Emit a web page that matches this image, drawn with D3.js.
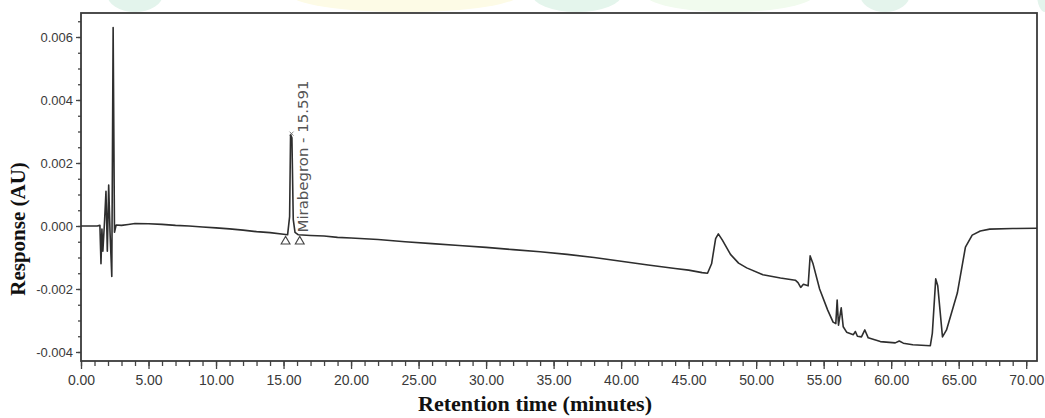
<!DOCTYPE html>
<html>
<head>
<meta charset="utf-8">
<script src="https://cdn.jsdelivr.net/npm/d3@7"></script>
<style>
body { margin:0; background:#fff; }
.tick text { font-family:"Liberation Sans", Arial, sans-serif; fill:#3a3a3a; }
.tick line { stroke:#444; }
</style>
</head>
<body>
<script>
// chromatogram (minutes, AU)
var times = [0,1.2,1.4,1.48,1.55,1.62,1.75,1.85,1.95,2.05,2.15,2.28,2.38,2.48,2.6,3,3.5,4,5,6,7,8,9,10,11,12,13,14,15,
  15.3,15.45,15.52,15.62,15.72,15.85,16.1,17,18,19,20,22,24,26,28,30,32,34,36,38,40,42,44,45,46,46.4,46.7,47.0,47.2,47.5,
  48.1,48.7,49.3,50.5,51.8,52.9,53.1,53.3,53.5,53.85,54.0,54.2,54.7,55.3,55.7,55.9,56.0,56.1,56.3,56.45,56.7,57.2,57.35,
  57.5,57.8,58.05,58.3,59.2,60.3,60.6,60.9,61.6,62.9,63.05,63.3,63.45,63.8,64.1,64.9,65.5,66.0,66.6,67.3,69,70.8];
var responses = [0,0,0.00002,-0.0012,-0.0001,-0.0008,0.0002,0.0011,-0.0008,0.0013,-0.0002,-0.0016,0.0063,-0.0002,0.00003,
  0.00002,0.00005,0.00008,0.00007,0.00005,0.00002,0,-0.00003,-0.00006,-0.00009,-0.00013,-0.00018,-0.00021,-0.00026,
  -0.00028,0.0003,0.0029,0.0028,0.0002,-0.0002,-0.00028,-0.0003,-0.00032,-0.00036,-0.00038,-0.00043,-0.0005,-0.00056,
  -0.00062,-0.00068,-0.00075,-0.00082,-0.0009,-0.001,-0.00112,-0.00124,-0.00135,-0.0014,-0.00148,-0.0015,-0.0012,-0.0004,
  -0.00025,-0.00045,-0.0009,-0.00118,-0.00133,-0.00155,-0.00165,-0.00172,-0.0018,-0.00195,-0.00185,-0.0019,-0.00095,
  -0.00118,-0.002,-0.00267,-0.00305,-0.0031,-0.00235,-0.00315,-0.0026,-0.0032,-0.00337,-0.00345,-0.00335,-0.0035,-0.00352,
  -0.0033,-0.00355,-0.00367,-0.00371,-0.00365,-0.00372,-0.00377,-0.0038,-0.0034,-0.00168,-0.0019,-0.00352,-0.0033,
  -0.00213,-0.00067,-0.00029,-0.00016,-0.0001,-0.00008,-0.00007];

var xTicks = [0,5,10,15,20,25,30,35,40,45,50,55,60,65,70];
var yTicks = [-0.004,-0.002,0,0.002,0.004,0.006];

var peakName = "Mirabegron", peakTime = 15.591, peakTop = 0.0029;
var peakMarks = [15.15, 16.2];   // start / end triangles
var peakBase = -0.00027;

var width = 1045, height = 418;
var plotL = 81, plotR = 1037, plotT = 13, plotB = 361;

var svg = d3.select('body').append('svg').attr('width', width).attr('height', height);

// faint watermark blobs along the top edge
var blobs = [[135,28,'#e3f4ec'],[405,115,'#fdfbe6'],[577,45,'#e4f5ec'],[730,85,'#f1fbee'],[885,25,'#e4f4ec'],[1045,8,'#e4f4ec']];
svg.append('g').selectAll('ellipse').data(blobs).enter().append('ellipse')
  .attr('cx', function(d){ return d[0]; }).attr('cy', -6)
  .attr('rx', function(d){ return d[1]; }).attr('ry', 18)
  .style('fill', function(d){ return d[2]; });
svg.append('rect').attr('x',0).attr('y',12).attr('width',width).attr('height',height).style('fill','#fff');

var x = d3.scaleLinear().domain([0, 70.8]).range([plotL, plotR]);
var y = d3.scaleLinear().domain([-0.004286, 0.006762]).range([plotB, plotT]);

// minor ticks
svg.append('g').attr('transform','translate(0,'+plotB+')')
  .call(d3.axisBottom(x).tickValues(d3.range(0,71,1)).tickSize(5).tickFormat(''))
  .call(function(g){ g.select('.domain').remove(); });
svg.append('g').attr('transform','translate('+plotL+',0)')
  .call(d3.axisLeft(y).tickValues(d3.range(-0.004,0.0066,0.0005)).tickSize(3).tickFormat(''))
  .call(function(g){ g.select('.domain').remove(); });

// major ticks
var yFmt = d3.format('.3f');
svg.append('g').attr('transform','translate(0,'+plotB+')')
  .call(d3.axisBottom(x).tickValues(xTicks).tickSize(8).tickPadding(6).tickFormat(d3.format('.2f')))
  .call(function(g){ g.select('.domain').remove(); g.selectAll('text').style('font-size','14px'); });
svg.append('g').attr('transform','translate('+plotL+',0)')
  .call(d3.axisLeft(y).tickValues(yTicks).tickSize(5).tickPadding(3)
    .tickFormat(function(d){ return yFmt(d).replace('\u2212','-'); }))
  .call(function(g){ g.select('.domain').remove(); g.selectAll('text').style('font-size','13px'); });

svg.selectAll('.tick line').style('stroke-width', 1.3);

// frame
svg.append('rect').attr('x', plotL).attr('y', plotT).attr('width', plotR-plotL).attr('height', plotB-plotT)
  .style('fill','none').style('stroke','#3a3a3a').style('stroke-width', 1.8);

// trace
var line = d3.line().x(function(d){ return x(d[0]); }).y(function(d){ return y(d[1]); });
svg.append('path').datum(d3.zip(times, responses)).attr('d', line)
  .style('fill','none').style('stroke','#2e2e2e').style('stroke-width', 1.6).style('stroke-linejoin','round');

// peak annotation
svg.selectAll('.pk').data(peakMarks).enter().append('path').attr('class','pk')
  .attr('d', d3.symbol().type(d3.symbolTriangle).size(34))
  .attr('transform', function(d){ return 'translate('+x(d)+','+(y(peakBase)+7)+')'; })
  .style('fill','#fff').style('stroke','#444').style('stroke-width',1.1);

svg.append('path')
  .attr('d','M'+(x(peakTime)-2)+','+(y(peakTop)-3)+' l4,4 m0,-4 l-4,4')
  .style('stroke','#666').style('stroke-width',0.8);

svg.append('text')
  .attr('transform','translate('+(x(peakTime)+16)+','+(y(peakBase)-2)+') rotate(-90)')
  .attr('textLength', 152).attr('lengthAdjust','spacingAndGlyphs')
  .style('font-family','"DejaVu Sans", sans-serif').style('font-size','14px').style('fill','#555')
  .text(peakName + ' - ' + peakTime);

// axis titles
svg.append('text').attr('x', 535).attr('y', 411).attr('text-anchor','middle')
  .attr('textLength', 234).attr('lengthAdjust','spacingAndGlyphs')
  .style('font-family','"Liberation Serif", "Times New Roman", serif').style('font-weight','bold').style('font-size','21px').style('fill','#111')
  .text('Retention time (minutes)');

svg.append('text').attr('transform','translate(25,229) rotate(-90)').attr('text-anchor','middle')
  .style('font-family','"Liberation Serif", "Times New Roman", serif').style('font-weight','bold').style('font-size','21px').style('fill','#111')
  .text('Response (AU)');
</script>
</body>
</html>
